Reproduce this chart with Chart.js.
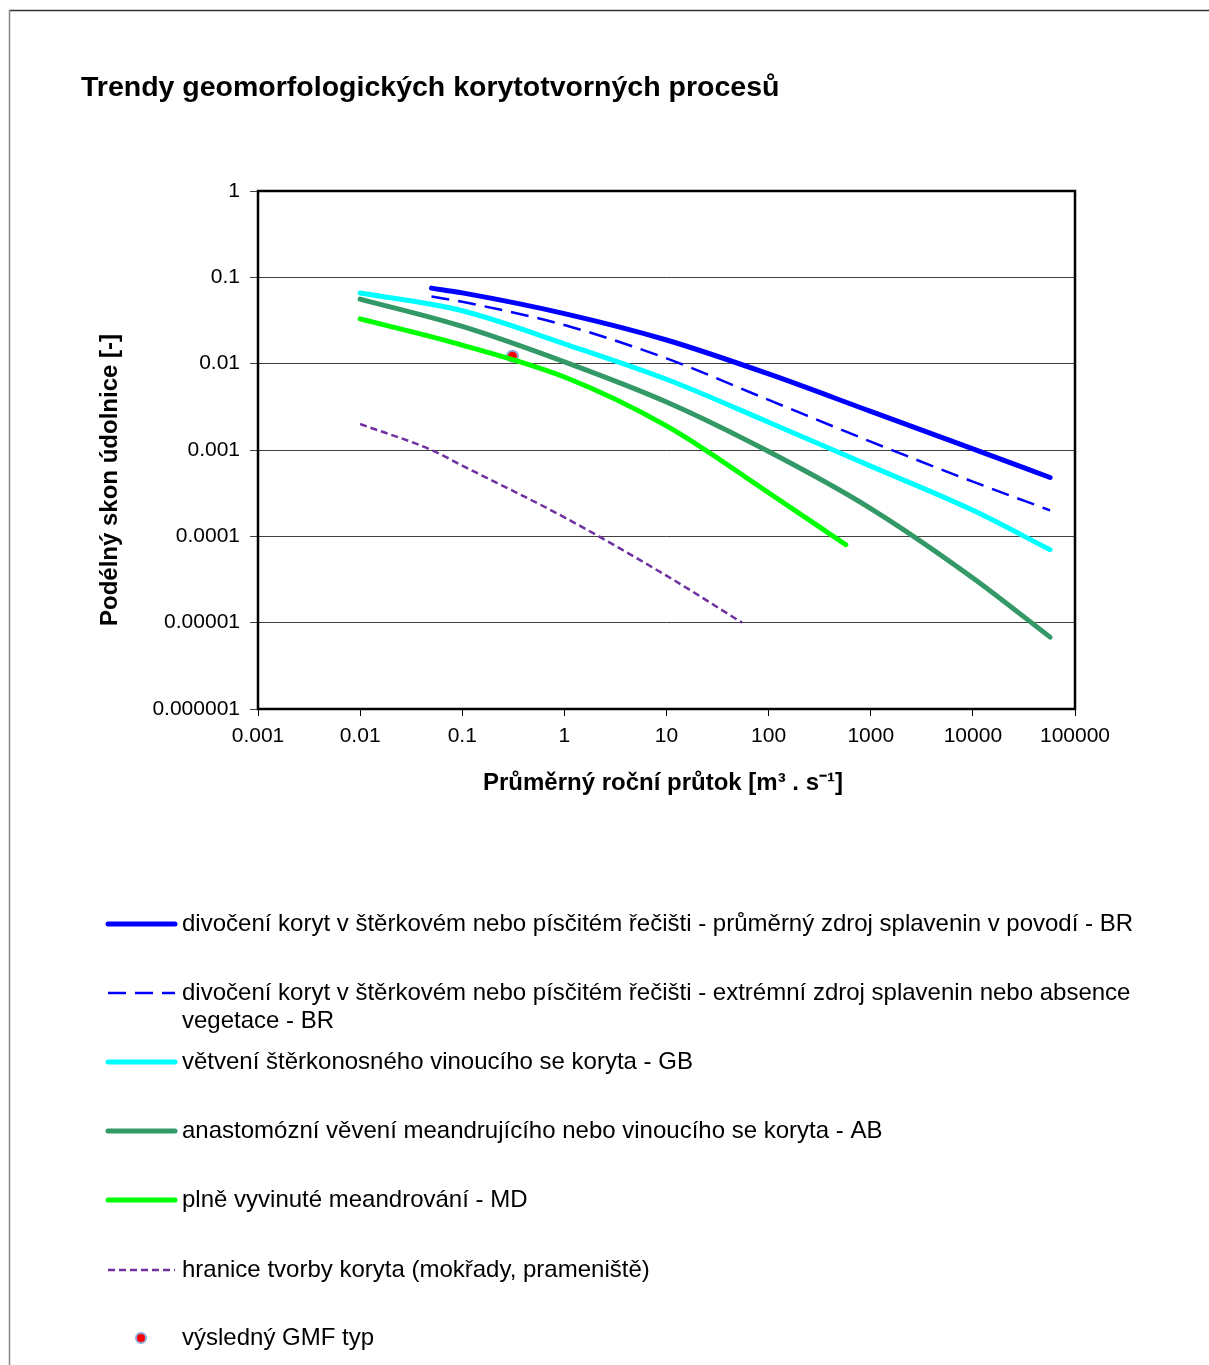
<!DOCTYPE html>
<html>
<head>
<meta charset="utf-8">
<script src="https://cdn.jsdelivr.net/npm/chart.js@4.4.1/dist/chart.umd.min.js"></script>
<style>
  html, body { margin: 0; padding: 0; background: #fff; }
  #wrap { width: 1209px; height: 1365px; position: relative; }
</style>
</head>
<body>
<div id="wrap"><canvas id="gmfChart"></canvas></div>
<script>
// texty
const chartTitle = 'Trendy geomorfologických korytotvorných procesů';
const xTitle = 'Průměrný roční průtok [m³ . s⁻¹]';
const yTitle = 'Podélný skon údolnice [-]';

// osy
const xTicks = [0.001, 0.01, 0.1, 1, 10, 100, 1000, 10000, 100000];
const xTickLabels = ['0.001', '0.01', '0.1', '1', '10', '100', '1000', '10000', '100000'];
const yTicks = [0.000001, 0.00001, 0.0001, 0.001, 0.01, 0.1, 1];
const yTickLabels = ['0.000001', '0.00001', '0.0001', '0.001', '0.01', '0.1', '1'];

// BR - prumerny zdroj splavenin
const brQ = [0.05, 0.1, 1, 10, 100, 1000, 10000, 57000];
const brAvgS = [0.075, 0.066, 0.038, 0.0188, 0.0076, 0.0028, 0.00103, 0.00048];
// BR - extremni zdroj
const brExtS = [0.06, 0.052, 0.028, 0.0115, 0.0038, 0.00125, 0.00043, 0.0002];
// GB
const gbQ = [0.01, 0.1, 1, 10, 100, 1000, 10000, 57000];
const gbS = [0.066, 0.041, 0.017, 0.0066, 0.0021, 0.00065, 0.0002, 0.00007];
// AB
const abQ = [0.01, 0.1, 1, 10, 100, 1000, 10000, 57000];
const abS = [0.056, 0.027, 0.0105, 0.0036, 0.00096, 0.00021, 0.000033, 0.0000068];
// MD
const mdQ = [0.01, 0.1, 1, 10, 100, 570];
const mdS = [0.033, 0.0164, 0.007, 0.0019, 0.00032, 0.00008];
// hranice tvorby koryta
const limQ = [0.01, 0.05, 0.1, 1, 10, 55];
const limS = [0.002, 0.001, 0.00066, 0.000166, 0.000035, 0.00001];
// vysledny bod
const gmfQ = [0.31];
const gmfS = [0.0122];

const legendLabels = [
    'divočení koryt v štěrkovém nebo písčitém řečišti - průměrný zdroj splavenin v povodí - BR',
    'divočení koryt v štěrkovém nebo písčitém řečišti - extrémní zdroj splavenin nebo absence\nvegetace - BR',
    'větvení štěrkonosného vinoucího se koryta - GB',
    'anastomózní věvení meandrujícího nebo vinoucího se koryta - AB',
    'plně vyvinuté meandrování - MD',
    'hranice tvorby koryta (mokřady, prameniště)',
    'výsledný GMF typ'
];

const FONT = 'Liberation Sans, Arial, sans-serif';

function pts(xs, ys) {
    return xs.map((x, i) => ({ x: x, y: ys[i] }));
}

function lineSet(label, xs, ys, color, width, dash) {
    return {
        label: label,
        data: pts(xs, ys),
        borderColor: color,
        backgroundColor: color,
        borderWidth: width,
        borderDash: dash || [],
        borderCapStyle: dash ? 'butt' : 'round',
        pointRadius: 0,
        cubicInterpolationMode: 'monotone',
        fill: false
    };
}

const datasets = [
    lineSet(legendLabels[0], brQ, brAvgS, '#0000FF', 5),
    lineSet(legendLabels[1], brQ, brExtS, '#0000FF', 2.5, [18, 9]),
    lineSet(legendLabels[2], gbQ, gbS, '#00FFFF', 5),
    lineSet(legendLabels[3], abQ, abS, '#339966', 5),
    lineSet(legendLabels[4], mdQ, mdS, '#00FF00', 5),
    lineSet(legendLabels[5], limQ, limS, '#7030A0', 2.5, [7, 4]),
    {
        label: legendLabels[6],
        data: pts(gmfQ, gmfS),
        showLine: false,
        pointRadius: 5.5,
        pointBackgroundColor: '#FF0000',
        pointBorderColor: '#8EA9DB',
        pointBorderWidth: 2
    }
];

// titulek, popisy os, ramecek a legenda
const decor = {
    id: 'decor',
    afterDatasetsDraw(chart) {
        const ctx = chart.ctx;
        const a = chart.chartArea;
        ctx.save();

        // vnejsi ramecek
        ctx.strokeStyle = '#333';
        ctx.lineWidth = 1.5;
        ctx.beginPath();
        ctx.moveTo(9, 10.5); ctx.lineTo(1209, 10.5);
        ctx.stroke();
        ctx.strokeStyle = '#888';
        ctx.beginPath();
        ctx.moveTo(9.5, 10); ctx.lineTo(9.5, 1365);
        ctx.stroke();

        // ramecek grafu
        ctx.strokeStyle = '#000';
        ctx.lineWidth = 2.5;
        ctx.strokeRect(a.left, a.top, a.right - a.left, a.bottom - a.top);

        ctx.fillStyle = '#000';
        ctx.font = 'bold 28.5px ' + FONT;
        ctx.textAlign = 'left';
        ctx.textBaseline = 'alphabetic';
        ctx.fillText(chartTitle, 81, 96);

        ctx.font = 'bold 24px ' + FONT;
        ctx.textAlign = 'center';
        ctx.textBaseline = 'middle';
        ctx.fillText(xTitle, 663, 783);

        ctx.save();
        ctx.translate(110, 480);
        ctx.rotate(-Math.PI / 2);
        ctx.fillText(yTitle, 0, 0);
        ctx.restore();

        // legenda
        const rowY = [924, 993, 1062, 1131, 1200, 1270, 1338];
        ctx.font = '24px ' + FONT;
        ctx.textAlign = 'left';
        ctx.textBaseline = 'middle';
        chart.data.datasets.forEach((ds, i) => {
            const y = rowY[i];
            if (ds.showLine === false) {
                ctx.beginPath();
                ctx.arc(141, y, 5, 0, Math.PI * 2);
                ctx.fillStyle = ds.pointBackgroundColor;
                ctx.fill();
                ctx.lineWidth = ds.pointBorderWidth;
                ctx.strokeStyle = ds.pointBorderColor;
                ctx.stroke();
            } else {
                ctx.beginPath();
                ctx.strokeStyle = ds.borderColor;
                ctx.lineWidth = ds.borderWidth;
                ctx.lineCap = ds.borderCapStyle;
                ctx.setLineDash(ds.borderDash);
                ctx.moveTo(108, y);
                ctx.lineTo(175, y);
                ctx.stroke();
                ctx.setLineDash([]);
            }
            ctx.fillStyle = '#000';
            ds.label.split('\n').forEach((line, k) => {
                ctx.fillText(line, 182, y + k * 28);
            });
        });

        ctx.restore();
    }
};

new Chart(document.getElementById('gmfChart'), {
    type: 'line',
    data: { datasets },
    options: {
        responsive: true,
        maintainAspectRatio: false,
        animation: false,
        layout: { padding: { top: 191, left: 0, right: 134, bottom: 606 } },
        plugins: {
            legend: { display: false },
            tooltip: { enabled: false }
        },
        scales: {
            x: {
                type: 'logarithmic',
                min: 0.001,
                max: 100000,
                afterBuildTicks: s => { s.ticks = xTicks.map(v => ({ value: v })); },
                afterFit: s => { s.height = 50; },
                ticks: {
                    callback: (v, i) => xTickLabels[i],
                    font: { family: FONT, size: 21 },
                    color: '#000',
                    padding: 8,
                    maxRotation: 0,
                    autoSkip: false
                },
                grid: { drawOnChartArea: false, drawTicks: true, tickLength: 7, color: '#000', lineWidth: 1 },
                border: { display: false }
            },
            y: {
                type: 'logarithmic',
                min: 0.000001,
                max: 1,
                afterBuildTicks: s => { s.ticks = yTicks.map(v => ({ value: v })); },
                afterFit: s => { s.width = 258; },
                ticks: {
                    callback: (v, i) => yTickLabels[i],
                    font: { family: FONT, size: 21 },
                    color: '#000',
                    padding: 10,
                    autoSkip: false
                },
                grid: { color: '#404040', lineWidth: 1, drawTicks: true, tickLength: 8 },
                border: { display: false }
            }
        }
    },
    plugins: [decor]
});
</script>
</body>
</html>
